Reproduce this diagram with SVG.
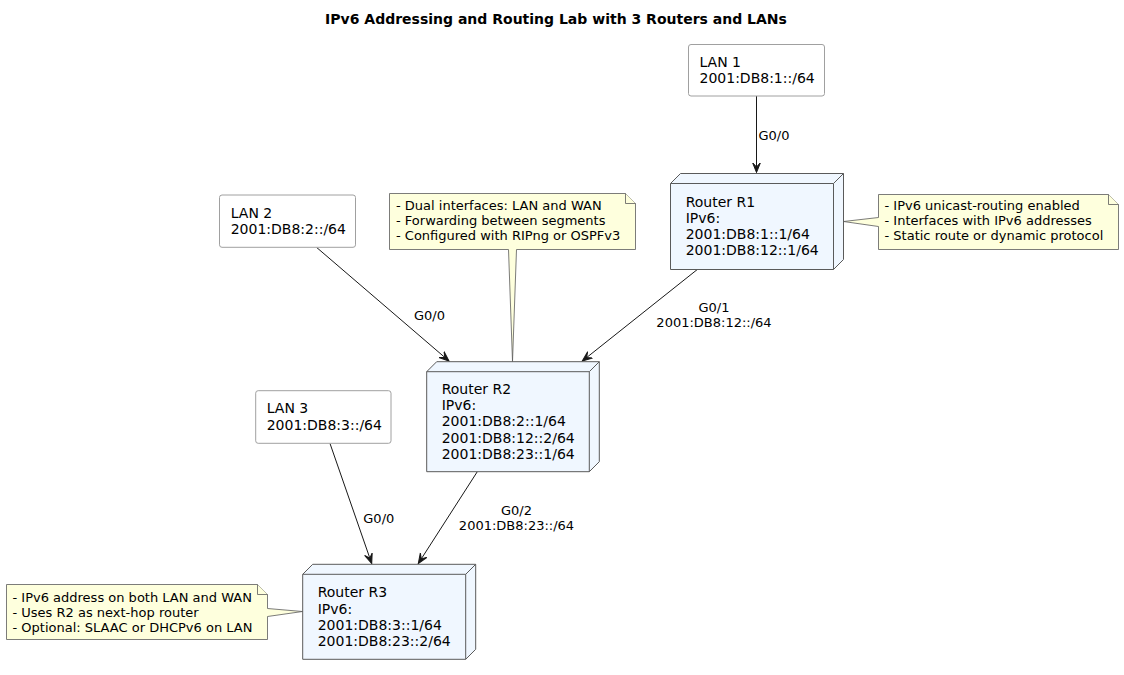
<svg xmlns="http://www.w3.org/2000/svg" width="1124" height="675" viewBox="0 0 1124 675">
<defs>
<style>
text{font-family:"DejaVu Sans","Liberation Sans",sans-serif;fill:#000}
.t{font-size:14px}
.n{font-size:13px}
.e{font-size:13px}
.title{font-size:14px;font-weight:bold}
.lan{fill:#FFFFFF;stroke:#A0A0A0;stroke-width:1}
.node{fill:#F0F7FF;stroke:#5A5A5A;stroke-width:1}
.nl{fill:none;stroke:#5A5A5A;stroke-width:1}
.note{fill:#FEFFDD;stroke:#5A5A5A;stroke-width:0.8}
.edge{fill:none;stroke:#181818;stroke-width:1}
</style>
<marker id="ah" viewBox="0 0 12 10" refX="10" refY="5" markerWidth="12" markerHeight="10" markerUnits="userSpaceOnUse" orient="auto">
<path d="M10,5 L0,1 L4.5,5 L0,9 Z" fill="#181818" stroke="#181818" stroke-width="1"/>
</marker>
</defs>
<rect width="1124" height="675" fill="#FFFFFF"/>
<text class="title" x="556" y="23.5" text-anchor="middle">IPv6 Addressing and Routing Lab with 3 Routers and LANs</text>

<g id="connectors">
<path class="edge" d="M756.5,96 L756.5,172.5" marker-end="url(#ah)"/>
<text class="e" x="758.5" y="140">G0/0</text>
<path class="edge" d="M316.7,247.5 L449,361" marker-end="url(#ah)"/>
<text class="e" x="414" y="320">G0/0</text>
<path class="edge" d="M697.3,269.5 L582.3,361" marker-end="url(#ah)"/>
<text class="e" x="714" y="311.5" text-anchor="middle">G0/1</text>
<text class="e" x="714" y="326.5" text-anchor="middle">2001:DB8:12::/64</text>
<path class="edge" d="M330,443.5 L371.7,563.5" marker-end="url(#ah)"/>
<text class="e" x="363.3" y="522.7">G0/0</text>
<path class="edge" d="M477.3,471.7 L418.3,563.5" marker-end="url(#ah)"/>
<text class="e" x="516.5" y="515" text-anchor="middle">G0/2</text>
<text class="e" x="516.5" y="530" text-anchor="middle">2001:DB8:23::/64</text>
</g>

<g id="lan1">
<rect class="lan" x="688.5" y="44.5" width="136" height="51.5" rx="2.5"/>
<text class="t" x="699.5" y="67">LAN 1</text>
<text class="t" x="699.5" y="83.3">2001:DB8:1::/64</text>
</g>

<g id="lan2">
<rect class="lan" x="219.5" y="195" width="136" height="52.3" rx="2.5"/>
<text class="t" x="230.7" y="217.7">LAN 2</text>
<text class="t" x="230.7" y="233.7">2001:DB8:2::/64</text>
</g>

<g id="lan3">
<rect class="lan" x="255.7" y="390.7" width="135.3" height="52.6" rx="2.5"/>
<text class="t" x="266.7" y="413.3">LAN 3</text>
<text class="t" x="266.7" y="429.5">2001:DB8:3::/64</text>
</g>

<g id="r1">
<path class="node" d="M670.5,183.5 L680.5,173.5 L843.5,173.5 L843.5,259.5 L833.5,269.5 L670.5,269.5 Z"/>
<path class="nl" d="M670.5,183.5 L833.5,183.5 L843.5,173.5 M833.5,183.5 L833.5,269.5"/>
<text class="t" x="685.7" y="206.7">Router R1</text>
<text class="t" x="685.7" y="222.9">IPv6:</text>
<text class="t" x="685.7" y="239.1">2001:DB8:1::1/64</text>
<text class="t" x="685.7" y="255.3">2001:DB8:12::1/64</text>
</g>

<g id="r2">
<path class="node" d="M426.7,371.7 L436.7,361.7 L599.3,361.7 L599.3,461.7 L589.3,471.7 L426.7,471.7 Z"/>
<path class="nl" d="M426.7,371.7 L589.3,371.7 L599.3,361.7 M589.3,371.7 L589.3,471.7"/>
<text class="t" x="441.7" y="394">Router R2</text>
<text class="t" x="441.7" y="410.2">IPv6:</text>
<text class="t" x="441.7" y="426.4">2001:DB8:2::1/64</text>
<text class="t" x="441.7" y="442.6">2001:DB8:12::2/64</text>
<text class="t" x="441.7" y="458.8">2001:DB8:23::1/64</text>
</g>

<g id="r3">
<path class="node" d="M302.7,574.3 L312.7,564.3 L475.7,564.3 L475.7,649.3 L465.7,659.3 L302.7,659.3 Z"/>
<path class="nl" d="M302.7,574.3 L465.7,574.3 L475.7,564.3 M465.7,574.3 L465.7,659.3"/>
<text class="t" x="317.7" y="597.3">Router R3</text>
<text class="t" x="317.7" y="613.5">IPv6:</text>
<text class="t" x="317.7" y="629.7">2001:DB8:3::1/64</text>
<text class="t" x="317.7" y="645.9">2001:DB8:23::2/64</text>
</g>

<g id="note-r1">
<path class="note" d="M878.5,194.5 L1108.5,194.5 L1118.5,204.5 L1118.5,249.5 L878.5,249.5 L878.5,226.5 L843.5,221.5 L878.5,217.5 Z"/>
<path class="note" d="M1108.5,194.5 L1108.5,204.5 L1118.5,204.5"/>
<text class="n" x="884.5" y="210">- IPv6 unicast-routing enabled</text>
<text class="n" x="884.5" y="225.2">- Interfaces with IPv6 addresses</text>
<text class="n" x="884.5" y="240.4">- Static route or dynamic protocol</text>
</g>

<g id="note-r2">
<path class="note" d="M389.5,193.5 L625.5,193.5 L635.5,203.5 L635.5,249.5 L516.5,249.5 L512.5,361.5 L508.5,249.5 L389.5,249.5 Z"/>
<path class="note" d="M625.5,193.5 L625.5,203.5 L635.5,203.5"/>
<text class="n" x="396" y="210">- Dual interfaces: LAN and WAN</text>
<text class="n" x="396" y="225.2">- Forwarding between segments</text>
<text class="n" x="396" y="240.4">- Configured with RIPng or OSPFv3</text>
</g>

<g id="note-r3">
<path class="note" d="M6.5,584.5 L257.5,584.5 L267.5,594.5 L267.5,608.5 L302.5,611.5 L267.5,616.5 L267.5,639.5 L6.5,639.5 Z"/>
<path class="note" d="M257.5,584.5 L257.5,594.5 L267.5,594.5"/>
<text class="n" x="12.5" y="601.7">- IPv6 address on both LAN and WAN</text>
<text class="n" x="12.5" y="616.9">- Uses R2 as next-hop router</text>
<text class="n" x="12.5" y="632.1">- Optional: SLAAC or DHCPv6 on LAN</text>
</g>
</svg>
